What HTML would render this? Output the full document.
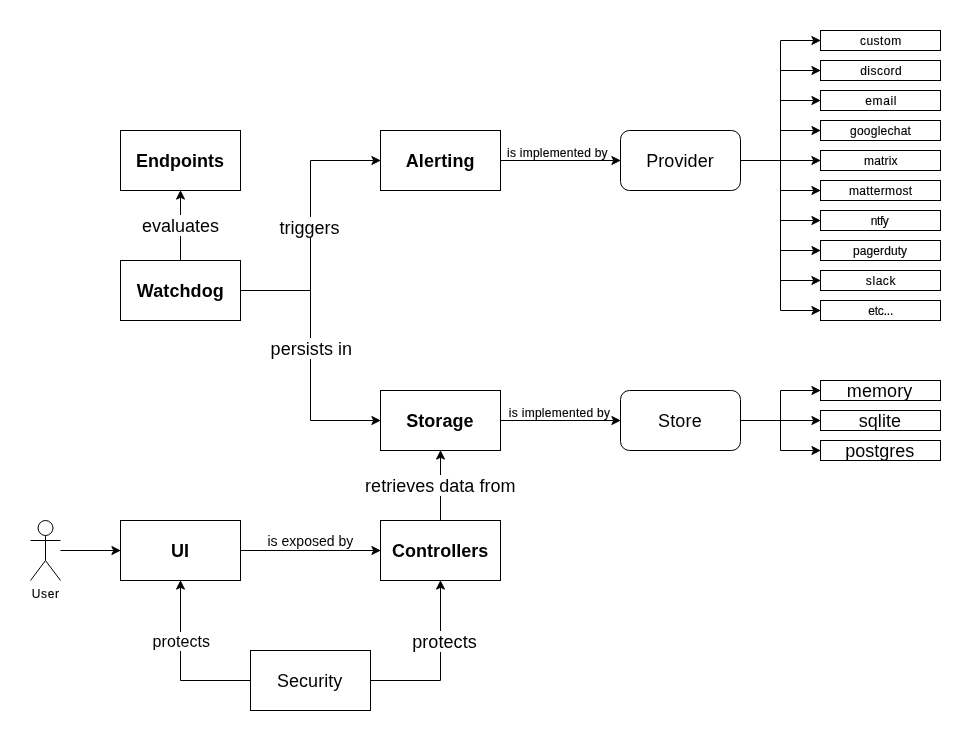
<!DOCTYPE html>
<html><head><meta charset="utf-8"><style>
html,body{margin:0;padding:0;background:#fff;}
body{width:972px;height:741px;overflow:hidden;}
svg{display:block;will-change:transform;}
text{font-family:"Liberation Sans",sans-serif;fill:#000;}
text.sm{stroke:#000;stroke-width:0.15px;}
.box rect,.box ellipse{fill:#fff;stroke:#000;stroke-width:1;}
.e{fill:none;stroke:#000;stroke-width:1;stroke-miterlimit:10;}
.a{fill:#000;stroke:#000;stroke-width:1;stroke-miterlimit:10;}
.bg{fill:#fff;stroke:none;}
</style></head><body>
<svg width="972" height="741" viewBox="0 0 972 741">
<g transform="translate(0.5,0.5)">
<g class="box">
<rect x="120" y="130" width="120" height="60"/>
<rect x="120" y="260" width="120" height="60"/>
<rect x="380" y="130" width="120" height="60"/>
<rect x="380" y="390" width="120" height="60"/>
<rect x="120" y="520" width="120" height="60"/>
<rect x="380" y="520" width="120" height="60"/>
<rect x="250" y="650" width="120" height="60"/>
<rect x="620" y="130" width="120" height="60" rx="9" ry="9"/>
<rect x="620" y="390" width="120" height="60" rx="9" ry="9"/>
<rect x="820" y="30" width="120" height="20"/>
<rect x="820" y="60" width="120" height="20"/>
<rect x="820" y="90" width="120" height="20"/>
<rect x="820" y="120" width="120" height="20"/>
<rect x="820" y="150" width="120" height="20"/>
<rect x="820" y="180" width="120" height="20"/>
<rect x="820" y="210" width="120" height="20"/>
<rect x="820" y="240" width="120" height="20"/>
<rect x="820" y="270" width="120" height="20"/>
<rect x="820" y="300" width="120" height="20"/>
<rect x="820" y="380" width="120" height="20"/>
<rect x="820" y="410" width="120" height="20"/>
<rect x="820" y="440" width="120" height="20"/>
</g>
<path class="e" d="M 180.00 260.00 L 180.00 196.70"/>
<path class="a" d="M 180.00 190.70 L 184.00 198.70 L 180.00 196.70 L 176.00 198.70 Z"/>
<path class="e" d="M 240.00 290.00 L 310.00 290.00 L 310.00 160.00 L 373.30 160.00"/>
<path class="a" d="M 379.30 160.00 L 371.30 164.00 L 373.30 160.00 L 371.30 156.00 Z"/>
<path class="e" d="M 240.00 290.00 L 310.00 290.00 L 310.00 420.00 L 373.30 420.00"/>
<path class="a" d="M 379.30 420.00 L 371.30 424.00 L 373.30 420.00 L 371.30 416.00 Z"/>
<path class="e" d="M 500.00 160.00 L 613.30 160.00"/>
<path class="a" d="M 619.30 160.00 L 611.30 164.00 L 613.30 160.00 L 611.30 156.00 Z"/>
<path class="e" d="M 740.00 160.00 L 780.00 160.00 L 780.00 40.00 L 813.30 40.00"/>
<path class="a" d="M 819.30 40.00 L 811.30 44.00 L 813.30 40.00 L 811.30 36.00 Z"/>
<path class="e" d="M 740.00 160.00 L 780.00 160.00 L 780.00 70.00 L 813.30 70.00"/>
<path class="a" d="M 819.30 70.00 L 811.30 74.00 L 813.30 70.00 L 811.30 66.00 Z"/>
<path class="e" d="M 740.00 160.00 L 780.00 160.00 L 780.00 100.00 L 813.30 100.00"/>
<path class="a" d="M 819.30 100.00 L 811.30 104.00 L 813.30 100.00 L 811.30 96.00 Z"/>
<path class="e" d="M 740.00 160.00 L 780.00 160.00 L 780.00 130.00 L 813.30 130.00"/>
<path class="a" d="M 819.30 130.00 L 811.30 134.00 L 813.30 130.00 L 811.30 126.00 Z"/>
<path class="e" d="M 740.00 160.00 L 780.00 160.00 L 780.00 160.00 L 813.30 160.00"/>
<path class="a" d="M 819.30 160.00 L 811.30 164.00 L 813.30 160.00 L 811.30 156.00 Z"/>
<path class="e" d="M 740.00 160.00 L 780.00 160.00 L 780.00 190.00 L 813.30 190.00"/>
<path class="a" d="M 819.30 190.00 L 811.30 194.00 L 813.30 190.00 L 811.30 186.00 Z"/>
<path class="e" d="M 740.00 160.00 L 780.00 160.00 L 780.00 220.00 L 813.30 220.00"/>
<path class="a" d="M 819.30 220.00 L 811.30 224.00 L 813.30 220.00 L 811.30 216.00 Z"/>
<path class="e" d="M 740.00 160.00 L 780.00 160.00 L 780.00 250.00 L 813.30 250.00"/>
<path class="a" d="M 819.30 250.00 L 811.30 254.00 L 813.30 250.00 L 811.30 246.00 Z"/>
<path class="e" d="M 740.00 160.00 L 780.00 160.00 L 780.00 280.00 L 813.30 280.00"/>
<path class="a" d="M 819.30 280.00 L 811.30 284.00 L 813.30 280.00 L 811.30 276.00 Z"/>
<path class="e" d="M 740.00 160.00 L 780.00 160.00 L 780.00 310.00 L 813.30 310.00"/>
<path class="a" d="M 819.30 310.00 L 811.30 314.00 L 813.30 310.00 L 811.30 306.00 Z"/>
<path class="e" d="M 500.00 420.00 L 613.30 420.00"/>
<path class="a" d="M 619.30 420.00 L 611.30 424.00 L 613.30 420.00 L 611.30 416.00 Z"/>
<path class="e" d="M 740.00 420.00 L 780.00 420.00 L 780.00 390.00 L 813.30 390.00"/>
<path class="a" d="M 819.30 390.00 L 811.30 394.00 L 813.30 390.00 L 811.30 386.00 Z"/>
<path class="e" d="M 740.00 420.00 L 780.00 420.00 L 780.00 420.00 L 813.30 420.00"/>
<path class="a" d="M 819.30 420.00 L 811.30 424.00 L 813.30 420.00 L 811.30 416.00 Z"/>
<path class="e" d="M 740.00 420.00 L 780.00 420.00 L 780.00 450.00 L 813.30 450.00"/>
<path class="a" d="M 819.30 450.00 L 811.30 454.00 L 813.30 450.00 L 811.30 446.00 Z"/>
<path class="e" d="M 440.00 520.00 L 440.00 456.70"/>
<path class="a" d="M 440.00 450.70 L 444.00 458.70 L 440.00 456.70 L 436.00 458.70 Z"/>
<path class="e" d="M 60.00 550.00 L 113.30 550.00"/>
<path class="a" d="M 119.30 550.00 L 111.30 554.00 L 113.30 550.00 L 111.30 546.00 Z"/>
<path class="e" d="M 240.00 550.00 L 373.30 550.00"/>
<path class="a" d="M 379.30 550.00 L 371.30 554.00 L 373.30 550.00 L 371.30 546.00 Z"/>
<path class="e" d="M 250.00 680.00 L 180.00 680.00 L 180.00 586.70"/>
<path class="a" d="M 180.00 580.70 L 184.00 588.70 L 180.00 586.70 L 176.00 588.70 Z"/>
<path class="e" d="M 370.00 680.00 L 440.00 680.00 L 440.00 586.70"/>
<path class="a" d="M 440.00 580.70 L 444.00 588.70 L 440.00 586.70 L 436.00 588.70 Z"/>
<g class="box">
<ellipse cx="45" cy="527.5" rx="7.5" ry="7.5"/>
<path class="e" d="M 45 535 L 45 560 M 30 540 L 60 540 M 30 580 L 45 560 L 60 580"/>
</g>
</g>
<rect class="bg" x="140" y="215" width="80" height="21"/>
<rect class="bg" x="275" y="217" width="70" height="21"/>
<rect class="bg" x="268" y="338" width="88" height="21"/>
<rect class="bg" x="360" y="475" width="160" height="21"/>
<rect class="bg" x="148" y="632" width="66" height="19"/>
<rect class="bg" x="408" y="631" width="72" height="21"/>
<text x="135.89" y="167" font-size="18" font-weight="bold" letter-spacing="0.006">Endpoints</text>
<text x="136.82" y="297" font-size="18" font-weight="bold" letter-spacing="0.087">Watchdog</text>
<text x="405.67" y="167" font-size="18" font-weight="bold" letter-spacing="0.132">Alerting</text>
<text x="406.18" y="427" font-size="18" font-weight="bold" letter-spacing="0.060">Storage</text>
<text x="171.04" y="557" font-size="18" font-weight="bold" letter-spacing="0.068">UI</text>
<text x="391.99" y="557" font-size="18" font-weight="bold" letter-spacing="0.036">Controllers</text>
<text x="646.13" y="167" font-size="18" letter-spacing="0.085">Provider</text>
<text x="658.01" y="427" font-size="18" letter-spacing="0.159">Store</text>
<text x="277.03" y="687" font-size="18" letter-spacing="0.021">Security</text>
<text class="sm" x="859.90" y="45" font-size="12" letter-spacing="0.519">custom</text>
<text class="sm" x="860.16" y="75" font-size="12" letter-spacing="0.491">discord</text>
<text class="sm" x="865.15" y="105" font-size="12" letter-spacing="0.658">email</text>
<text class="sm" x="850.05" y="135" font-size="12" letter-spacing="0.237">googlechat</text>
<text class="sm" x="864.04" y="165" font-size="12" letter-spacing="0.157">matrix</text>
<text class="sm" x="849.04" y="195" font-size="12" letter-spacing="0.335">mattermost</text>
<text class="sm" x="870.74" y="225" font-size="12" letter-spacing="-0.412">ntfy</text>
<text class="sm" x="853.09" y="255" font-size="12" letter-spacing="0.082">pagerduty</text>
<text class="sm" x="865.86" y="285" font-size="12" letter-spacing="0.558">slack</text>
<text class="sm" x="868.15" y="315" font-size="12" letter-spacing="-0.173">etc...</text>
<text x="846.82" y="397" font-size="18" letter-spacing="0.103">memory</text>
<text x="858.67" y="427" font-size="18" letter-spacing="0.091">sqlite</text>
<text x="845.19" y="456.5" font-size="18" letter-spacing="0.021">postgres</text>
<text x="142.06" y="232" font-size="18" letter-spacing="-0.021">evaluates</text>
<text x="279.60" y="233.6" font-size="18" letter-spacing="-0.020">triggers</text>
<text x="270.58" y="354.5" font-size="18" letter-spacing="0.053">persists in</text>
<text x="365.10" y="492" font-size="18" letter-spacing="0.018">retrieves data from</text>
<text x="152.48" y="647" font-size="16" letter-spacing="0.106">protects</text>
<text x="412.19" y="647.6" font-size="18" letter-spacing="0.076">protects</text>
<text class="sm" x="507.00" y="157" font-size="12" letter-spacing="0.244">is implemented by</text>
<text class="sm" x="508.87" y="417" font-size="12" letter-spacing="0.278">is implemented by</text>
<text x="267.43" y="545.5" font-size="14" letter-spacing="0.027">is exposed by</text>
<text class="sm" x="31.87" y="598" font-size="12" letter-spacing="0.578">User</text>
</svg>
</body></html>
